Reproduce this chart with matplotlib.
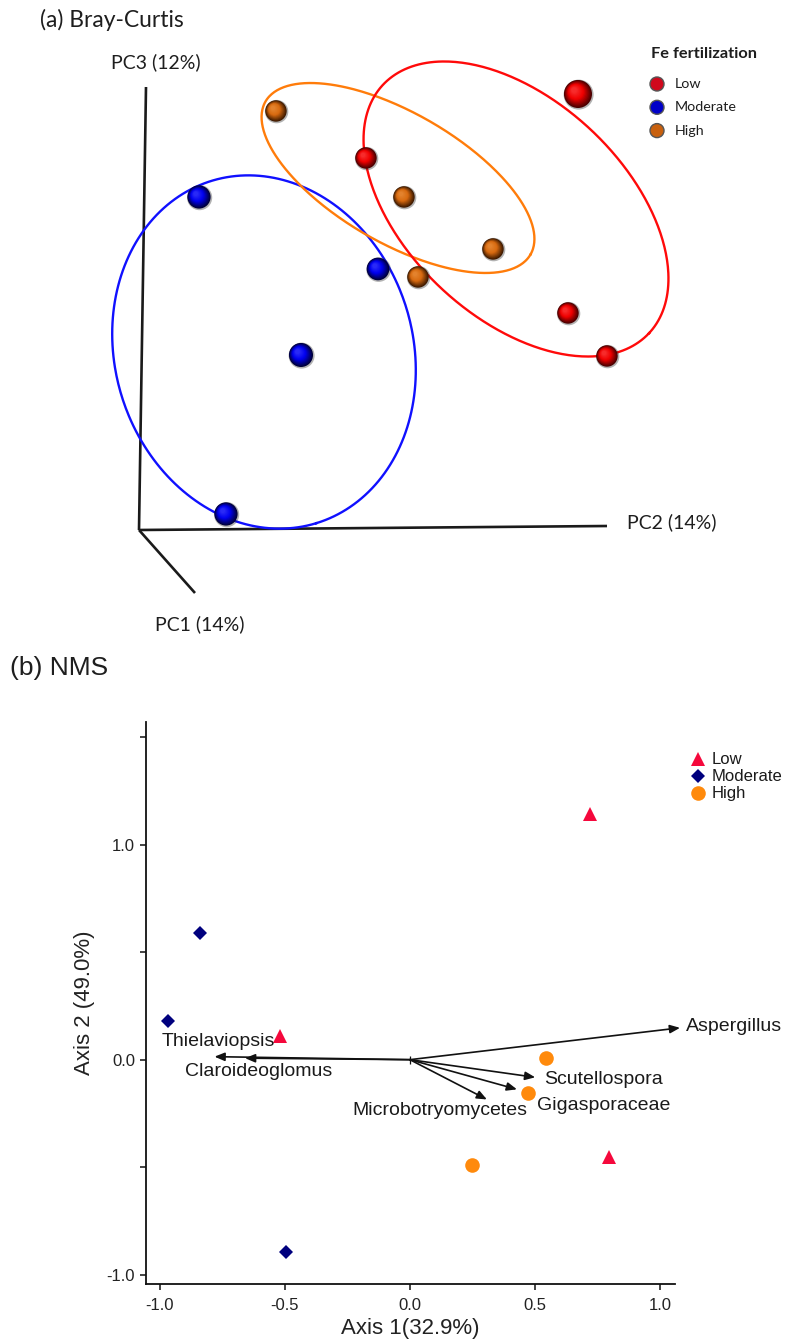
import numpy as np
import matplotlib
matplotlib.use("Agg")
import matplotlib.pyplot as plt
from matplotlib.patches import Circle
from matplotlib.colors import to_rgb

# ---------------- Panel (a) data: Bray-Curtis PCoA (projected 3-D positions, px) -------------
groups = ["Low", "Moderate", "High"]
a_low_x = [578, 366, 568, 607]
a_low_y = [94, 158, 313, 356]
a_low_r = [14, 10.7, 10.7, 10.7]
a_mod_x = [199, 378, 301, 226]
a_mod_y = [197, 269, 355, 514]
a_mod_r = [11.6, 11.3, 12, 11.6]
a_high_x = [276, 404, 493, 418]
a_high_y = [111, 197, 249, 277]
a_high_r = [10.7, 10.7, 10.7, 10.7]
# ellipses: centre x, centre y, semi-major, semi-minor, angle (deg, screen coords)
a_ell_low = [516, 209, 182, 109, 43]
a_ell_mod = [264, 352, 179, 149, 73]
a_ell_high = [398, 178, 153, 65, 30]

# ---------------- Panel (b) data: NMS ----------------
b_low_x = [0.722, -0.519, 0.795]
b_low_y = [1.141, 0.110, -0.452]
b_mod_x = [-0.841, -0.967, -0.497]
b_mod_y = [0.589, 0.182, -0.896]
b_high_x = [0.544, 0.474, 0.250]
b_high_y = [0.007, -0.157, -0.491]
taxa = ["Aspergillus", "Thielaviopsis", "Claroideoglomus",
        "Scutellospora", "Gigasporaceae", "Microbotryomycetes"]
taxa_x = [1.080, -0.781, -0.659, 0.501, 0.428, 0.308]
taxa_y = [0.148, 0.014, 0.007, -0.082, -0.138, -0.185]
x_ticks = [-1.0, -0.5, 0.0, 0.5, 1.0]
x_ticklabels = ["-1.0", "-0.5", "0.0", "0.5", "1.0"]
y_ticks = [-1.0, -0.5, 0.0, 0.5, 1.0, 1.5]
y_ticklabels = ["-1.0", "", "0.0", "", "1.0", ""]

# label anchor positions for the vectors (layout, data units)
taxa_label_pos = {
    "Aspergillus": (1.102, 0.152),
    "Thielaviopsis": (-0.992, 0.084),
    "Claroideoglomus": (-0.898, -0.056),
    "Scutellospora": (0.537, -0.091),
    "Gigasporaceae": (0.508, -0.211),
    "Microbotryomycetes": (-0.229, -0.235),
}

W, H = 786, 1341
fig = plt.figure(figsize=(W / 100, H / 100), dpi=100)
fig.patch.set_facecolor("white")

# overlay in pixel coordinates
ov = fig.add_axes([0, 0, 1, 1])
ov.set_xlim(0, W)
ov.set_ylim(H, 0)
ov.axis("off")

FA = "Lato"
FB = "Liberation Sans"
txtc = "#1e1e1e"

# ---------- panel (a) ----------
ov.text(40, 20, "(a) Bray-Curtis", fontsize=16.5, family=FA, color=txtc, va="center", ha="left")

# 3-D axes
ov.plot([146, 139], [87, 530], color="#1a1a1a", lw=1.9, solid_capstyle="butt")
ov.plot([139, 607], [530, 526], color="#1a1a1a", lw=1.9, solid_capstyle="butt")
ov.plot([139, 195], [530, 593], color="#1a1a1a", lw=1.9, solid_capstyle="butt")
ov.text(156, 62, "PC3 (12%)", fontsize=14, family=FA, color=txtc, ha="center", va="center")
ov.text(627, 522, "PC2 (14%)", fontsize=14, family=FA, color=txtc, ha="left", va="center")
ov.text(200, 624, "PC1 (14%)", fontsize=14, family=FA, color=txtc, ha="center", va="center")


def ellipse_pts(p):
    cx, cy, a, b, th = p
    t = np.linspace(0, 2 * np.pi, 400)
    th = np.deg2rad(th)
    x = cx + a * np.cos(t) * np.cos(th) - b * np.sin(t) * np.sin(th)
    y = cy + a * np.cos(t) * np.sin(th) + b * np.sin(t) * np.cos(th)
    return x, y


for p, c in [(a_ell_mod, "#1010ff"), (a_ell_high, "#ff7c0a"), (a_ell_low, "#ff0a0a")]:
    ex, ey = ellipse_pts(p)
    ov.plot(ex, ey, color=c, lw=1.7, zorder=3)


def sphere(x, y, r, base, dark, light):
    base, dark, light = map(np.array, (to_rgb(base), to_rgb(dark), to_rgb(light)))
    ov.add_patch(Circle((x + 0.6, y + 0.6), r + 1.0, color=(0.15, 0.15, 0.15), alpha=0.35, lw=0, zorder=4))
    n = 14
    for i in range(n):
        t = i / (n - 1)
        rr = r * (1 - 0.8 * t)
        off = -0.28 * r * t
        if t < 0.55:
            s = t / 0.55
            col = dark * (1 - s) + base * s
        else:
            s = (t - 0.55) / 0.45
            col = base * (1 - 0.45 * s) + light * 0.45 * s
        ov.add_patch(Circle((x + off, y + off), rr, color=np.clip(col, 0, 1), lw=0, zorder=5))


sty = {
    "Low": ("#f00000", "#4a0000", "#ff6060"),
    "Moderate": ("#0000f0", "#00003a", "#5a5aff"),
    "High": ("#d86a10", "#3e1a00", "#f0a050"),
}
for xs, ys, rs, g in [(a_low_x, a_low_y, a_low_r, "Low"),
                      (a_mod_x, a_mod_y, a_mod_r, "Moderate"),
                      (a_high_x, a_high_y, a_high_r, "High")]:
    for x, y, r in zip(xs, ys, rs):
        sphere(x, y, r, *sty[g])

# legend (a)
ov.text(651, 54, "Fe fertilization", fontsize=11.8, family=FA, weight="bold", color=txtc, va="center", ha="left")
leg_a_cols = ["#d0081c", "#0000c8", "#c8600e"]
for i, (g, c) in enumerate(zip(groups, leg_a_cols)):
    yy = 84 + i * 23.3
    ov.add_patch(Circle((657, yy), 7, facecolor=c, edgecolor="#555555", lw=1.0, zorder=5))
    ov.text(675, yy, g, fontsize=10.3, family=FA, color=txtc, va="center", ha="left")

# ---------- panel (b) ----------
ov.text(10, 668, "(b) NMS", fontsize=19, family=FB, color=txtc, va="center", ha="left")

L, T, R, B = 146, 722, 675, 1284
axB = fig.add_axes([L / W, 1 - B / H, (R - L) / W, (B - T) / H])
axB.set_xlim(-1.055, 1.06)
axB.set_ylim(-1.043, 1.57)
axB.patch.set_alpha(0)
for s in ["top", "right"]:
    axB.spines[s].set_visible(False)
for s in ["left", "bottom"]:
    axB.spines[s].set_linewidth(1.3)
    axB.spines[s].set_color("#111111")
axB.set_xticks(x_ticks)
axB.set_xticklabels(x_ticklabels)
axB.set_yticks(y_ticks)
axB.set_yticklabels(y_ticklabels)
axB.tick_params(direction="out", length=4, width=1.1, colors="#111111", labelsize=12, pad=4)
axB.tick_params(axis="x", pad=6)
for lab in axB.get_xticklabels() + axB.get_yticklabels():
    lab.set_family(FB)
    lab.set_color("#222222")
axB.set_xlabel("Axis 1(32.9%)", fontsize=16, family=FB, color="#222222", labelpad=4)
axB.set_ylabel("Axis 2 (49.0%)", fontsize=16, family=FB, color="#222222", labelpad=8)

c_low, c_mod, c_high = "#f5083c", "#00007e", "#ff8a0c"
axB.plot(b_low_x, b_low_y, ls="none", marker="^", ms=10, color=c_low, mew=0, zorder=4, clip_on=False)
axB.plot(b_mod_x, b_mod_y, ls="none", marker="D", ms=7, color=c_mod, mew=0, zorder=4, clip_on=False)
axB.plot(b_high_x, b_high_y, ls="none", marker="o", ms=10.5, color=c_high, mew=0, zorder=4, clip_on=False)

for name, tx, ty in zip(taxa, taxa_x, taxa_y):
    axB.annotate("", xy=(tx, ty), xytext=(0, 0),
                 arrowprops=dict(arrowstyle="-|>,head_length=0.6,head_width=0.25",
                                 color="#111111", lw=1.2, mutation_scale=10,
                                 shrinkA=0, shrinkB=0), annotation_clip=False, zorder=3)
    lx, ly = taxa_label_pos[name]
    axB.text(lx, ly, name, fontsize=14, family=FB, color="#1a1a1a", ha="left", va="center",
             zorder=5, clip_on=False)
axB.plot([0], [0], marker="|", ms=6, mew=0.9, color="#111111", zorder=3)

# legend (b)
leg_b = [("^", 10, c_low), ("D", 7, c_mod), ("o", 10.5, c_high)]
for i, (g, (m, ms, c)) in enumerate(zip(groups, leg_b)):
    yy = 759 + i * 17
    ov.plot([698], [yy], marker=m, ms=ms, color=c, mew=0, ls="none")
    ov.text(712, yy, g, fontsize=12, family=FB, color="#1a1a1a", va="center", ha="left")

fig.savefig("out.png", dpi=100, facecolor="white")
